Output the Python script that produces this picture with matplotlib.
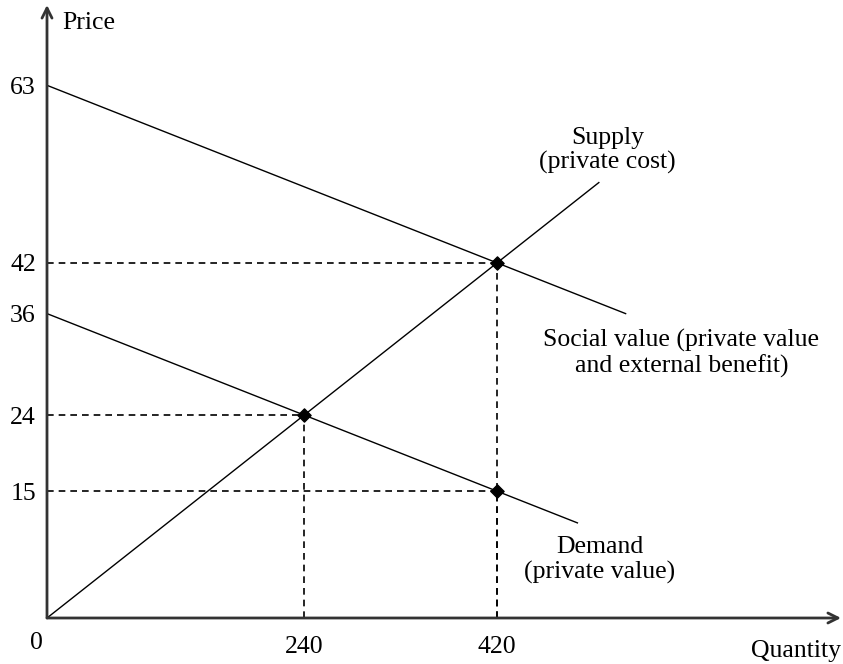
import matplotlib.pyplot as plt

plt.rcParams['font.family'] = ['Liberation Serif', 'DejaVu Serif']

# data
supply_q = [0, 515]
supply_p = [0, 51.5]
social_q = [0, 540]
social_p = [63, 36]
demand_q = [0, 495]
demand_p = [36, 11.25]

point_q = [240, 420, 420]
point_p = [24, 42, 15]

x_ticks = [240, 420]
y_ticks = [15, 24, 36, 42, 63]

fig = plt.figure(figsize=(8.43, 6.64), dpi=100)
ax = fig.add_axes([47 / 843, 46 / 664, (841 - 47) / 843, (618 - 5) / 664])
ax.set_xlim(0, 741)
ax.set_ylim(0, 72.5)

# curves
ax.plot(supply_q, supply_p, color='black', lw=1.0)
ax.plot(social_q, social_p, color='black', lw=1.0)
ax.plot(demand_q, demand_p, color='black', lw=1.0)

# dashed guides
dash = dict(color='black', lw=1.2, linestyle=(0, (4, 3)))
for q, p in zip(point_q, point_p):
    ax.plot([0, q], [p, p], **dash)
    ax.plot([q, q], [0, p], **dash)

ax.scatter(point_q, point_p, s=45, color='black', marker='D', zorder=5)

# axes with arrows
for s in ax.spines.values():
    s.set_visible(False)
ax.annotate('', xy=(1, 0), xytext=(0, 0), xycoords='axes fraction',
            arrowprops=dict(arrowstyle='->', lw=2.0, color='#333333',
                            shrinkA=0, shrinkB=0, mutation_scale=18))
ax.annotate('', xy=(0, 1), xytext=(0, 0), xycoords='axes fraction',
            arrowprops=dict(arrowstyle='->', lw=2.0, color='#333333',
                            shrinkA=0, shrinkB=0, mutation_scale=18))

fs = 18.5
ax.set_xticks(x_ticks)
ax.set_yticks(y_ticks)
ax.tick_params(length=0, labelsize=fs, pad=8)
ax.tick_params(axis='x', pad=13)

ax.text(-10.3, -3.0, '0', fontsize=fs, ha='center', va='center')
ax.text(14, 70.4, 'Price', fontsize=fs, ha='left', va='center')
ax.text(741, -3.9, 'Quantity', fontsize=fs, ha='right', va='center')
ax.text(523, 55.3, 'Supply\n(private cost)', fontsize=fs, ha='center',
        va='center', linespacing=1.15)
ax.text(592, 31.3, 'Social value (private value\nand external benefit)',
        fontsize=fs, ha='center', va='center', linespacing=1.15)
ax.text(516, 6.9, 'Demand\n(private value)', fontsize=fs, ha='center',
        va='center', linespacing=1.15)

for t in ax.texts:
    t.set_clip_on(False)

plt.savefig('out.png', dpi=100)
